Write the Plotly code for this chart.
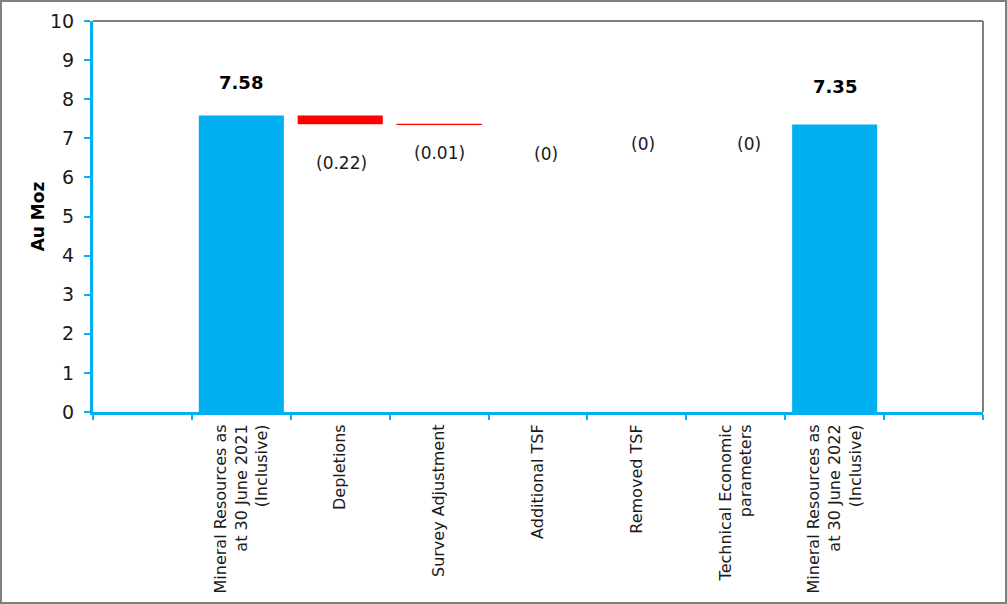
import plotly.graph_objects as go

# ---- data ----
categories = [
    "Mineral Resources as<br>at 30 June 2021<br>(Inclusive)",
    "Depletions",
    "Survey Adjustment",
    "Additional TSF",
    "Removed TSF",
    "Technical Economic<br>parameters",
    "Mineral Resources as<br>at 30 June 2022<br>(Inclusive)",
]
values = [7.58, -0.22, -0.01, 0, 0, 0, 7.35]
is_total = [True, False, False, False, False, False, True]
value_labels = ["7.58", "(0.22)", "(0.01)", "(0)", "(0)", "(0)", "7.35"]
y_ticks = list(range(0, 11))

# ---- styling ----
BLUE = "#00B0F0"
RED = "#FF0000"
GRAY = "#7F7F7F"
FONT = "DejaVu Sans"
W, H = 1007, 604
ML, MR, MT, MB = 93, 24, 21, 192
label_shift_px = [21, -27, -16, -17, -7, -7, 26]
label_xshift_px = [0, 1, 0, 8, 6, 13, 0]

pad_left, pad_right = " ", "  "
cat_order = [pad_left] + categories + [pad_right]

bases, heights, colors = [], [], []
level = 0.0
for v, t in zip(values, is_total):
    if t:
        bases.append(0.0)
        heights.append(v)
        colors.append(BLUE)
        level = v
    else:
        if v < 0:
            bases.append(level + v)
            heights.append(-v)
        else:
            bases.append(level)
            heights.append(v)
        colors.append(RED)
        level = level + v

fig = go.Figure()
fig.add_trace(go.Bar(
    x=categories, y=heights, base=bases,
    marker=dict(color=colors, line=dict(width=0)),
    width=0.86, hoverinfo="skip", showlegend=False,
))

annotations = []
for i, (c, lab, b, h, t) in enumerate(zip(categories, value_labels, bases, heights, is_total)):
    if t:
        annotations.append(dict(
            x=c, y=b + h, xref="x", yref="y", text="<b>" + lab + "</b>",
            showarrow=False, yanchor="bottom", yshift=label_shift_px[i],
            xshift=label_xshift_px[i],
            font=dict(family=FONT, size=18, color="#000000"),
        ))
    else:
        annotations.append(dict(
            x=c, y=b, xref="x", yref="y", text=lab,
            showarrow=False, yanchor="top", yshift=label_shift_px[i],
            xshift=label_xshift_px[i],
            font=dict(family=FONT, size=17, color="#1a1a1a"),
        ))

pw = W - ML - MR
ph = H - MT - MB
shapes = [
    # plot-area top and right border
    dict(type="line", xref="paper", yref="paper", x0=0, x1=1, y0=1, y1=1,
         line=dict(color=GRAY, width=2)),
    dict(type="line", xref="paper", yref="paper", x0=1, x1=1, y0=0, y1=1,
         line=dict(color=GRAY, width=2)),
    # outer chart border
    dict(type="rect", xref="paper", yref="paper",
         x0=-(ML - 1) / pw, x1=(W - ML - 1) / pw,
         y0=-(MB - 1) / ph, y1=(H - MB - 1) / ph,
         line=dict(color=GRAY, width=2), layer="below"),
]

# tiny adjustment drawn as a thin line at its level
for c, b, h, t in zip(categories, bases, heights, is_total):
    if (not t) and 0 < h < 0.05:
        idx = cat_order.index(c)
        shapes.append(dict(
            type="line", xref="x", yref="y",
            x0=idx - 0.43, x1=idx + 0.43, y0=b + h, y1=b + h,
            line=dict(color=RED, width=1),
        ))

fig.update_layout(
    width=W, height=H,
    margin=dict(l=ML, r=MR, t=MT, b=MB, pad=0, autoexpand=False),
    plot_bgcolor="white", paper_bgcolor="white",
    font=dict(family=FONT, color="#1a1a1a"),
    annotations=annotations,
    shapes=shapes,
    xaxis=dict(
        type="category", categoryorder="array", categoryarray=cat_order,
        range=[-0.5, len(cat_order) - 0.5], automargin=False,
        tickson="boundaries", ticks="outside", ticklen=5, tickwidth=2, tickcolor=BLUE,
        showline=True, linecolor=BLUE, linewidth=3, ticklabelstandoff=3,
        tickangle=-90, tickfont=dict(family=FONT, size=16, color="#1a1a1a"),
        showgrid=False, zeroline=False,
    ),
    yaxis=dict(
        range=[0, 10], tickvals=y_ticks, ticks="outside", ticklen=6, tickwidth=2,
        tickcolor=BLUE, showline=True, linecolor=BLUE, linewidth=3, automargin=False,
        ticklabelstandoff=6,
        tickfont=dict(family=FONT, size=19, color="#1a1a1a"),
        showgrid=False, zeroline=False,
        title=dict(text="<b>Au Moz</b>", font=dict(family=FONT, size=17, color="#000000"),
                   standoff=2),
    ),
)

fig.write_html("out.html", config={"displayModeBar": False},
               post_script="document.body.style.margin='0';")
